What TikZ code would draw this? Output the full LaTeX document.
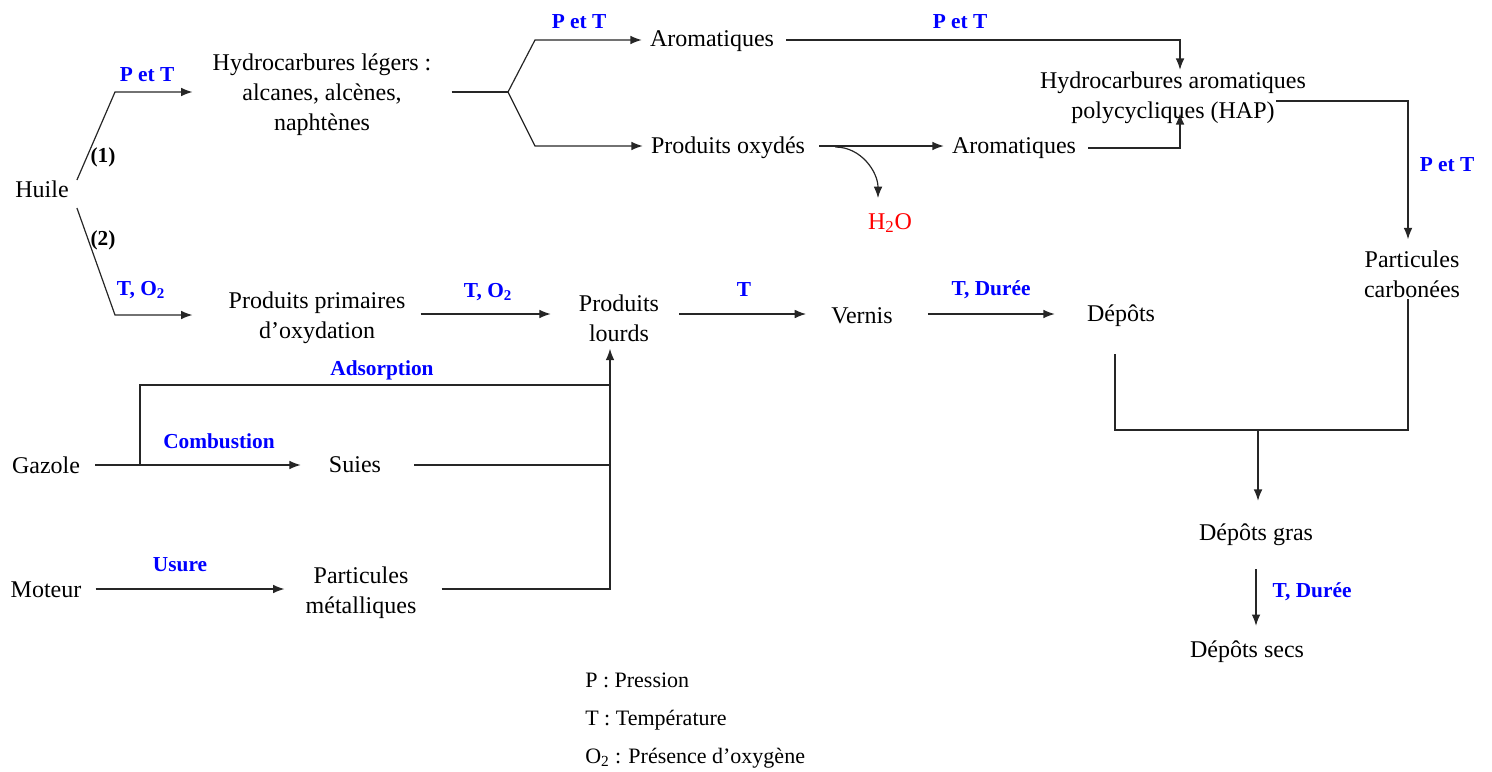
\documentclass[tikz,border=0pt]{standalone}
\usepackage{fontspec}
\setmainfont{Liberation Serif}
\usetikzlibrary{arrows.meta,calc}
\begin{document}
\begin{tikzpicture}[x=0.75pt,y=-0.75pt,
  txt/.style={inner sep=0pt,align=center,yshift=-2.25pt,font=\fontsize{18}{22.5}\selectfont},
  lab/.style={inner sep=0pt,text=blue,font=\bfseries\fontsize{16}{19}\selectfont},
  num/.style={inner sep=0pt,font=\bfseries\fontsize{16}{19}\selectfont},
  leg/.style={inner sep=0pt,anchor=west,font=\fontsize{16.5}{20}\selectfont},
  ln/.style={line width=0.9pt,draw=black!85},
  arr/.style={ln,-{Latex[length=8.5pt,width=6.5pt]}}]
\path[use as bounding box] (0,0) rectangle (1492,771);

% nodes
\node[txt] (huile) at (42,186) {Huile};
\node[txt] (hyd) at (322,92) {Hydrocarbures légers :\\alcanes, alcènes,\\naphtènes};
\node[txt] (arom1) at (712,38) {Aromatiques};
\node[txt] (prodox) at (728,145) {Produits oxydés};
\node[txt] (hap) at (1173,95) {Hydrocarbures aromatiques\\polycycliques (HAP)};
\node[txt] (arom2) at (1014,145) {Aromatiques};
\node[txt,text=red] (h2o) at (890,220) {H\textsubscript{2}O};
\node[txt] (pc) at (1412,271) {Particules\\carbonées};
\node[txt] (prim) at (317,315) {Produits primaires\\d’oxydation};
\node[txt] (lourds) at (619,315) {Produits\\lourds};
\node[txt] (vernis) at (862,313) {Vernis};
\node[txt] (depots) at (1121,313) {Dépôts};
\node[txt] (gaz) at (46,462) {Gazole};
\node[txt] (suies) at (355,462) {Suies};
\node[txt] (mot) at (46,587) {Moteur};
\node[txt] (pm) at (361,590) {Particules\\métalliques};
\node[txt] (dg) at (1256,532) {Dépôts gras};
\node[txt] (ds) at (1247,649) {Dépôts secs};

% labels
\node[lab] (l1) at (147,75) {P et T};
\node[num] (n1) at (103,157) {(1)};
\node[num] (n2) at (103,240) {(2)};
\node[lab] (l2) at (141,290) {T, O\textsubscript{2}};
\node[lab] (l3) at (579,22) {P et T};
\node[lab] (l4) at (960,22) {P et T};
\node[lab] (l5) at (1447,165) {P et T};
\node[lab] (l6) at (488,292) {T, O\textsubscript{2}};
\node[lab] (l7) at (744,290) {T};
\node[lab] (l8) at (991,290) {T, Durée};
\node[lab] (l9) at (382,370) {Adsorption};
\node[lab] (l10) at (219,441) {Combustion};
\node[lab] (l11) at (180,565) {Usure};
\node[lab] (l12) at (1312,592) {T, Durée};

% legend
\node[leg] (lg1) at (585,680) {P : Pression};
\node[leg] (lg2) at (585,720) {T : Température};
\node[leg] (lg3) at (585,758) {O\textsubscript{2} : Présence d’oxygène};

% connectors
\coordinate (s1) at (508,92);
\coordinate (bus) at (140,465);
\coordinate (m) at (1258,430);

\draw[arr] ($(huile.east)+(8,-9)$) -- (115,92) -- ($(hyd.west)+(-20,-3)$);
\draw[arr] ($(huile.east)+(8,19)$) -- (115,315) -- ($(prim.west)+(-36,-3)$);
\draw[ln] ($(hyd.east)+(20,-3)$) -- (s1);
\draw[arr] (s1) -- (535,40) -- ($(arom1.west)+(-8,-1)$);
\draw[arr] (s1) -- (535,146) -- ($(prodox.west)+(-8,-2)$);
\draw[arr] ($(arom1.east)+(12,-1)$) -| ($(hap.north)+(7,-2)$);
\draw[arr] ($(arom2.east)+(12,0)$) -| ($(hap.south)+(7,-11)$);
\draw[arr] ($(hap.east)+(-30,3)$) -| ($(pc.north)+(-4,-11)$);
\draw[arr] ($(prodox.east)+(14,-2)$) -- ($(arom2.west)+(-8,-2)$);
\draw[arr] ($(prodox.east)+(30,-1)$) to[out=0,in=90] ($(h2o.north)+(-12,-15)$);
\draw[arr] ($(prim.east)+(15,-4)$) -- ($(lourds.west)+(-28,-4)$);
\draw[arr] ($(lourds.east)+(20,-4)$) -- ($(vernis.west)+(-25,-2)$);
\draw[arr] ($(vernis.east)+(35,-2)$) -- ($(depots.west)+(-32,-2)$);
\draw[ln] ($(depots.south)+(-6,27)$) |- (m) -| ($(pc.south)+(-4,1)$);
\draw[arr] (m) -- ($(dg.north)+(2,-23)$);
\draw[arr] ($(dg.south)+(0,23)$) -- ($(ds.north)+(9,-15)$);
\draw[arr] ($(gaz.east)+(15,0)$) -- ($(suies.west)+(-28,0)$);
\draw[ln] (bus) -- (140,385) -- (610,385);
\draw[ln] ($(suies.east)+(33,0)$) -- (610,465);
\draw[arr] ($(mot.east)+(14,-1)$) -- ($(pm.west)+(-21,-4)$);
\draw[arr] ($(pm.east)+(25,-4)$) -| ($(lourds.south)+(-9,7)$);
\end{tikzpicture}
\end{document}
